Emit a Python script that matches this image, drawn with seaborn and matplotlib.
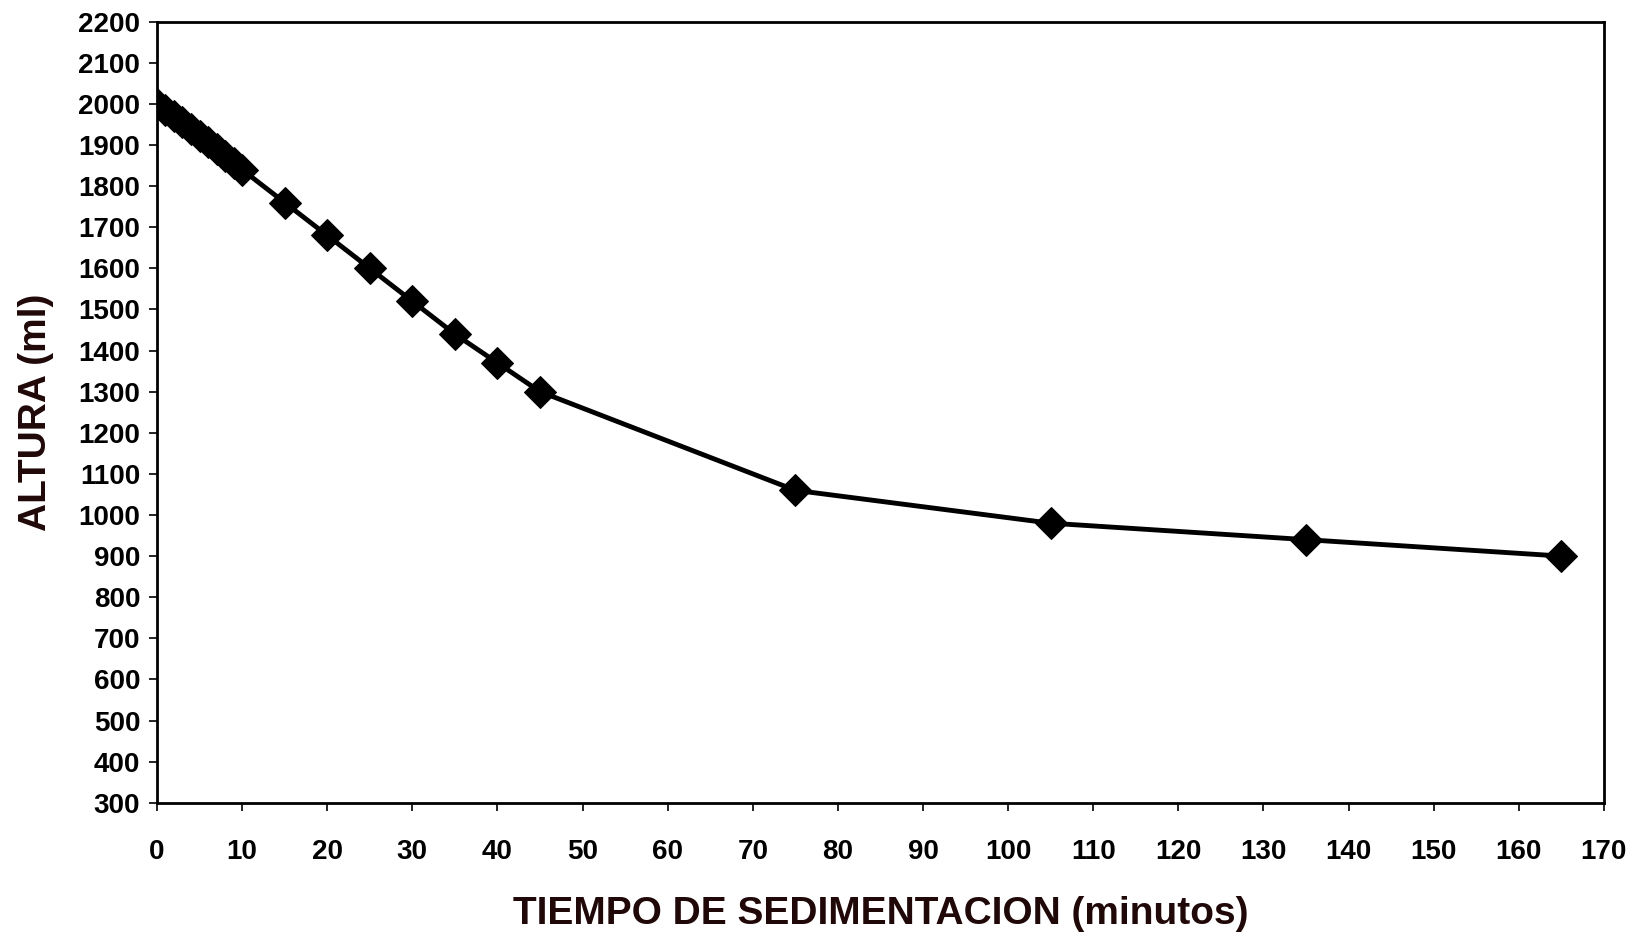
import matplotlib
matplotlib.use("Agg")
import matplotlib.pyplot as plt
import seaborn as sns
import pandas as pd

tiempo = [0, 1, 2, 3, 4, 5, 6, 7, 8, 9, 10, 15, 20, 25, 30, 35, 40, 45, 75, 105, 135, 165]
altura = [2000, 1985, 1970, 1955, 1940, 1922, 1906, 1890, 1872, 1856, 1840,
          1760, 1680, 1600, 1520, 1440, 1370, 1300, 1060, 980, 940, 900]
x_ticks = list(range(0, 171, 10))
y_ticks = list(range(300, 2201, 100))
x_label = "TIEMPO DE SEDIMENTACION (minutos)"
y_label = "ALTURA (ml)"

sns.set_theme(style="white")
plt.rcParams['font.family'] = ['Liberation Sans', 'DejaVu Sans']

df = pd.DataFrame({"t": tiempo, "h": altura})

fig = plt.figure(figsize=(16.35, 9.4), dpi=100)
ax = fig.add_axes([0.096, 0.146, 0.885, 0.831])
sns.lineplot(data=df, x="t", y="h", ax=ax, color="black", linewidth=3.5,
             marker="D", markersize=16, markeredgecolor="black",
             markerfacecolor="black", sort=False)

ax.set_xlim(0, 170)
ax.set_ylim(300, 2200)
ax.set_xticks(x_ticks)
ax.set_yticks(y_ticks)
ax.tick_params(axis="both", labelsize=20, direction="out", length=6, width=1.2,
               colors="black", bottom=True, left=True, pad=6)
ax.tick_params(axis="x", pad=20)
for lab in ax.get_xticklabels() + ax.get_yticklabels():
    lab.set_fontweight("bold")
for s in ax.spines.values():
    s.set_color("black")
    s.set_linewidth(2)
ax.set_xlabel(x_label, fontsize=28, fontweight="bold", color="#200808")
ax.set_ylabel(y_label, fontsize=28, fontweight="bold", color="#200808")
ax.xaxis.label.set_va("center")
ax.yaxis.label.set_va("center")
ax.xaxis.set_label_coords(0.5, -0.143)
ax.yaxis.set_label_coords(-0.0833, 0.5)

fig.savefig("out.png", dpi=100, facecolor="white")
